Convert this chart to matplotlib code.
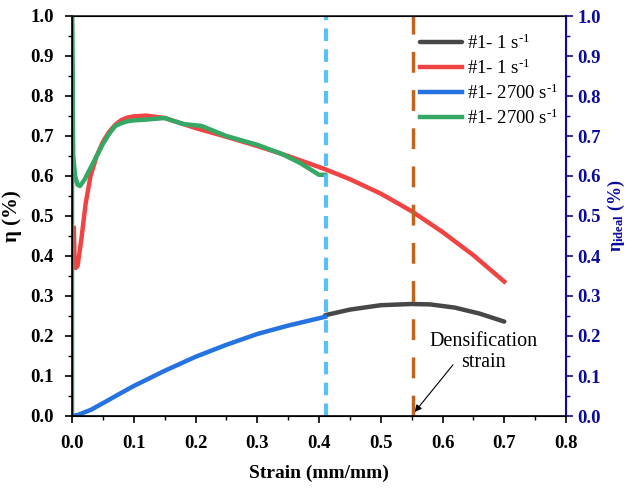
import matplotlib
matplotlib.use("Agg")
import matplotlib.pyplot as plt
from matplotlib.ticker import MultipleLocator

plt.rcParams['font.family'] = ['Liberation Serif', 'DejaVu Serif']
plt.rcParams['mathtext.fontset'] = 'custom'
plt.rcParams['mathtext.rm'] = 'Liberation Serif'
plt.rcParams['mathtext.bf'] = 'Liberation Serif:bold'
plt.rcParams['mathtext.it'] = 'Liberation Serif:italic'

# Data
black_x = [0.41, 0.45, 0.50, 0.55, 0.58, 0.62, 0.66, 0.70]
black_y = [0.252, 0.266, 0.277, 0.280, 0.279, 0.271, 0.256, 0.236]

blue_x = [0.0, 0.01, 0.03, 0.05, 0.08, 0.10, 0.15, 0.20, 0.25, 0.30, 0.35, 0.41]
blue_y = [0.0, 0.003, 0.015, 0.032, 0.058, 0.075, 0.113, 0.148, 0.178, 0.205, 0.226, 0.248]

red_x = [0.003, 0.004, 0.006, 0.009, 0.015, 0.022, 0.03, 0.04, 0.05, 0.06, 0.07, 0.08, 0.09, 0.10,
         0.12, 0.15, 0.20, 0.25, 0.30, 0.35, 0.41, 0.45, 0.50, 0.55, 0.60, 0.65, 0.70]
red_y = [0.47, 0.40, 0.37, 0.375, 0.44, 0.53, 0.60, 0.65, 0.685, 0.71, 0.728, 0.74, 0.746, 0.749,
         0.751, 0.745, 0.72, 0.698, 0.675, 0.65, 0.617, 0.592, 0.556, 0.512, 0.46, 0.402, 0.336]

green_x = [0.0, 0.0, 0.002, 0.005, 0.009, 0.013, 0.02, 0.03, 0.04, 0.05, 0.06, 0.07, 0.08, 0.09,
           0.10, 0.12, 0.15, 0.18, 0.21, 0.25, 0.30, 0.34, 0.37, 0.40, 0.41]
green_y = [0.0, 1.0, 0.65, 0.60, 0.578, 0.575, 0.59, 0.62, 0.65, 0.68, 0.705, 0.725, 0.732, 0.737,
           0.739, 0.741, 0.745, 0.73, 0.725, 0.70, 0.678, 0.655, 0.632, 0.603, 0.603]

labels = [r'#1- 1 s$^{\text{-1}}$', r'#1- 1 s$^{\text{-1}}$',
          r'#1- 2700 s$^{\text{-1}}$', r'#1- 2700 s$^{\text{-1}}$']
colors = ['#474747', '#F04444', '#2573E0', '#35A865']

vline_blue = 0.412
vline_brown = 0.552
annot_text = 'Densification\nstrain'

fig = plt.figure(figsize=(6.26, 4.91), dpi=100)
ax = fig.add_axes([72/626, 1-416/491, (566-72)/626, 400/491])
ax2 = ax.twinx()

lw = 3.2
ax.plot(black_x, black_y, color=colors[0], lw=lw, label=labels[0], solid_capstyle='round')
ax.plot(red_x, red_y, color=colors[1], lw=lw, label=labels[1])
ax.plot(blue_x, blue_y, color=colors[2], lw=lw, label=labels[2])
ax.plot(green_x, green_y, color=colors[3], lw=lw, label=labels[3])

ax.plot([vline_blue, vline_blue], [0, 1], color='#55C1F8', lw=3, ls=(0, (3, 2)))
ax.plot([vline_brown, vline_brown], [0, 1], color='#C0641E', lw=2.5, ls=(0, (6, 5)))

ax.annotate('', xy=(0.555, 0.01), xytext=(0.617, 0.128),
            arrowprops=dict(arrowstyle='-|>', color='black', lw=0.8, shrinkA=0, shrinkB=0,
                            mutation_scale=10))
ax.text(0.666, 0.16, annot_text, ha='center', va='center', fontsize=14.5, linespacing=1.15)

ax.set_xlim(0, 0.8)
ax.set_ylim(0, 1.0)
ax2.set_ylim(0, 1.0)

ax.xaxis.set_major_locator(MultipleLocator(0.1))
ax.xaxis.set_minor_locator(MultipleLocator(0.05))
ax.yaxis.set_major_locator(MultipleLocator(0.1))
ax.yaxis.set_minor_locator(MultipleLocator(0.05))
ax2.yaxis.set_major_locator(MultipleLocator(0.1))
ax2.yaxis.set_minor_locator(MultipleLocator(0.05))

ax.xaxis.set_major_formatter(plt.FormatStrFormatter('%.1f'))
ax.yaxis.set_major_formatter(plt.FormatStrFormatter('%.1f'))
ax2.yaxis.set_major_formatter(plt.FormatStrFormatter('%.1f'))

tfs = 13.5
ax.tick_params(which='major', direction='out', length=5, width=1.2, labelsize=tfs)
ax.tick_params(which='minor', direction='out', length=3, width=1.0)
ax.tick_params(axis='x', pad=9)
ax.tick_params(axis='y', pad=8)
for lab in ax.get_xticklabels() + ax.get_yticklabels():
    lab.set_fontweight('bold')

navy = '#0A0A9E'
ax2.tick_params(which='major', direction='out', length=5, width=1.2, labelsize=tfs, colors=navy, pad=3)
ax2.tick_params(which='minor', direction='out', length=3, width=1.0, colors=navy)
for lab in ax2.get_yticklabels():
    lab.set_fontweight('bold')
ax2.spines['right'].set_color(navy)
ax2.spines['right'].set_linewidth(1.5)
for s in ['left', 'top', 'bottom']:
    ax.spines[s].set_linewidth(1.2)
ax.spines['top'].set_color('#222222')

ax.set_xlabel('Strain (mm/mm)', fontsize=14, fontweight='bold', labelpad=9)
ax.set_ylabel('η (%)', fontsize=15, fontweight='bold', labelpad=6)
ax2.set_ylabel(r'η$_{\mathbf{ideal}}$ (%)', fontsize=13, fontweight='bold', color=navy)
ax2.yaxis.set_label_coords(1.08, 0.5)

leg = ax.legend(loc='upper left', bbox_to_anchor=(0.69, 0.975), frameon=False, fontsize=13.5,
                handlelength=2.2, handletextpad=0.3, labelspacing=0.3, borderaxespad=0)

fig.savefig('out.png', dpi=100)
